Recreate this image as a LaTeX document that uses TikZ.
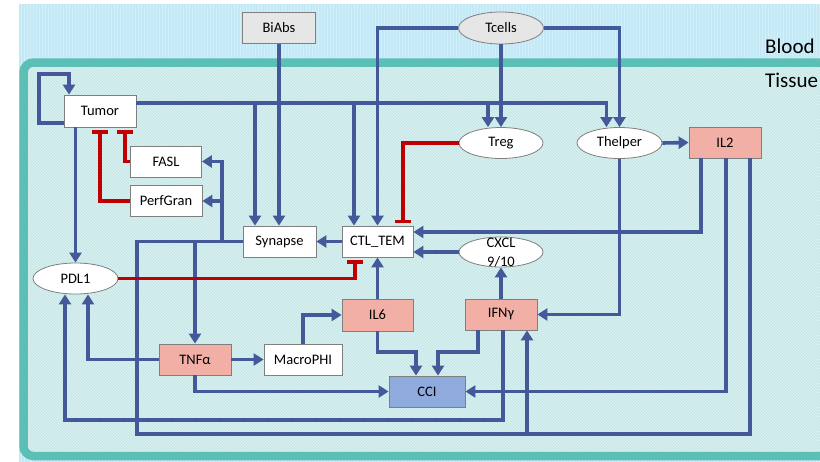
\documentclass[tikz,border=0pt]{standalone}
\usepackage{fontspec}
\setmainfont{Carlito}
\usetikzlibrary{arrows.meta,shapes.geometric,patterns}
\definecolor{lnblue}{HTML}{43599A}
\definecolor{inhred}{HTML}{C00000}
\definecolor{boxgray}{HTML}{7F7F7F}
\definecolor{pinkfill}{HTML}{F2AFA6}
\definecolor{ccifill}{HTML}{8FAADC}
\definecolor{grayfill}{HTML}{E6E6E6}
\definecolor{bloodbg}{HTML}{C3E8F6}
\definecolor{bloodst}{HTML}{D2EFFA}
\definecolor{tissuebg}{HTML}{C9E8E8}
\definecolor{tissuest}{HTML}{E1F3F3}
\definecolor{tealb}{HTML}{5CBFB6}
\begin{document}
\begin{tikzpicture}[x=1pt,y=-1pt,
  box/.style={draw=boxgray, line width=0.8pt, fill=white, minimum width=72pt, minimum height=31pt, inner sep=0pt, font=\fontsize{14.5}{17}\selectfont},
  oval/.style={box, ellipse, minimum width=85pt},
  pinkbox/.style={box, fill=pinkfill},
  ar/.style={draw=lnblue, line width=3.6pt, -{Triangle[length=10pt,width=12pt]}},
  ln/.style={draw=lnblue, line width=3.6pt},
  inh/.style={draw=inhred, line width=3.6pt, -{Bar[width=16pt]}, shorten >=2.5pt},
  lbl/.style={font=\fontsize{21}{24}\selectfont, anchor=west, inner sep=0pt},
]
\useasboundingbox (0,0) rectangle (820,461);
\clip (0,0) rectangle (820,461);
% backgrounds
\fill[bloodbg] (19,4) rectangle (830,470);
\fill[pattern=vertical lines, pattern color=bloodst] (19,4) rectangle (830,470);
\fill[tissuebg, rounded corners=10pt] (23.5,62.5) rectangle (870,456);
\fill[pattern=north west lines, pattern color=tissuest, rounded corners=10pt] (23.5,62.5) rectangle (870,456);
\draw[tealb, line width=8.5pt, rounded corners=10pt] (23.5,62.5) rectangle (870,456);
\node[lbl] (blood) at (765,46) {Blood};
\node[lbl] (tissue) at (765,80) {Tissue};

% nodes
\node[box, fill=grayfill, minimum width=73pt] (biabs) at (279,28) {BiAbs};
\node[oval, fill=grayfill, minimum height=32pt] (tcells) at (501,28) {Tcells};
\node[box, minimum height=32pt] (tumor) at (100,111) {Tumor};
\node[box, minimum width=71pt] (fasl) at (166,161.5) {FASL};
\node[box] (perf) at (166,201) {PerfGran};
\node[box, minimum width=73pt] (synapse) at (279.5,241.5) {Synapse};
\node[box, minimum width=71pt] (ctl) at (377.5,241.5) {CTL\_TEM};
\node[oval, minimum width=84pt] (treg) at (501,143) {Treg};
\node[oval] (thelper) at (619.5,143) {Thelper};
\node[pinkbox] (il2) at (725,142.5) {IL2};
\node[oval, minimum width=84pt, minimum height=30pt] (cxcl) at (501,252) {};
\node[font=\fontsize{14.5}{19}\selectfont, align=center, inner sep=0pt] (cxcltext) at (501,252.5) {CXCL\\9/10};
\node[oval, minimum height=31pt] (pdl1) at (75.5,278.5) {PDL1};
\node[pinkbox, minimum width=71pt, minimum height=32pt] (il6) at (377.5,315) {IL6};
\node[pinkbox] (ifng) at (501,314.5) {IFNγ};
\node[pinkbox] (tnfa) at (195,359.5) {TNFα};
\node[box, minimum width=78pt] (macro) at (303,359.5) {MacroPHI};
\node[box, fill=ccifill, minimum width=76pt] (cci) at (427,391.5) {CCI};

% helper coordinates
\coordinate (tl) at ([yshift=8pt]tumor.east);
\coordinate (synA) at ([xshift=-24.5pt]synapse.north);
\coordinate (ctlA) at ([xshift=-23.5pt]ctl.north);
\coordinate (tregA) at ([xshift=-13pt]treg.north);
\coordinate (thA) at ([xshift=-13pt]thelper.north);
\coordinate (ifB) at ([xshift=26pt]ifng.south);
\coordinate (pdB) at ([xshift=-10.5pt]pdl1.south);
\coordinate (ccA) at ([xshift=-11pt]cci.north);
\coordinate (ccB) at ([xshift=11pt]cci.north);

% blue connectors
\draw[ar] ([yshift=-12pt]tumor.west) -| (39,74) -| ([xshift=-31pt]tumor.north);
\draw[ar] (tl) -| (thA);
\draw[ar] (tl -| synA) -- (synA);
\draw[ar] (tl -| ctlA) -- (ctlA);
\draw[ar] (tl -| tregA) -- (tregA);
\draw[ar] (biabs.south) -- (biabs.south |- synapse.north);
\draw[ar] (tcells.west) -| (ctl.north);
\draw[ar] (tcells.south) -- (tcells.south |- treg.north);
\draw[ar] (tcells.east) -| (thelper.north);
\draw[ar] (thelper.east) -- (il2.west);
\draw[ar] ([xshift=-24pt]il2.south) |- ([yshift=9.5pt]ctl.east);
\draw[ar] ([xshift=1pt]il2.south) |- (cci.east);
\draw[ln] (synapse.west) -| (137,434) -- (ifB |- 0,434);
\draw[ar] ([xshift=25pt]il2.south) |- (ifB |- 0,434) -- (ifB);
\draw[ar] (synapse.west -| 222,0) |- (fasl.east);
\draw[ar] (synapse.west -| 222,0) |- (perf.east);
\draw[ar] (synapse.west -| tnfa.north) -- (tnfa.north);
\draw[ar] (ctl.west) -- (synapse.east);
\draw[ar] (cxcl.west) -- (cxcl.west -| ctl.east);
\draw[ar] (ifng.north) -- (cxcl.south);
\draw[ar] (il6.north) -- (ctl.south);
\draw[ar] (tumor.south -| pdl1.north) -- (pdl1.north);
\draw[ar] (tnfa.west) -| ([xshift=12.5pt]pdl1.south);
\draw[ar] ([xshift=2pt]ifng.south) |- (pdB |- 0,420) -- (pdB);
\draw[ar] (tnfa.east) -- (macro.west);
\draw[ar] (tnfa.south) |- (cci.west);
\draw[ar] (macro.north) |- (il6.west);
\draw[ar] (il6.south) |- (ccA |- 0,352) -- (ccA);
\draw[ar] ([xshift=-23pt]ifng.south) |- (ccB |- 0,352) -- (ccB);
\draw[ar] (thelper.south) |- (ifng.east);

% red inhibitions
\draw[inh] (treg.west) -| ([xshift=25.5pt]ctl.north);
\draw[inh] (pdl1.east) -| ([xshift=-22.5pt]ctl.south);
\draw[inh] (fasl.west) -| ([xshift=25pt]tumor.south);
\draw[inh] (perf.west) -| (tumor.south);
\end{tikzpicture}
\end{document}
